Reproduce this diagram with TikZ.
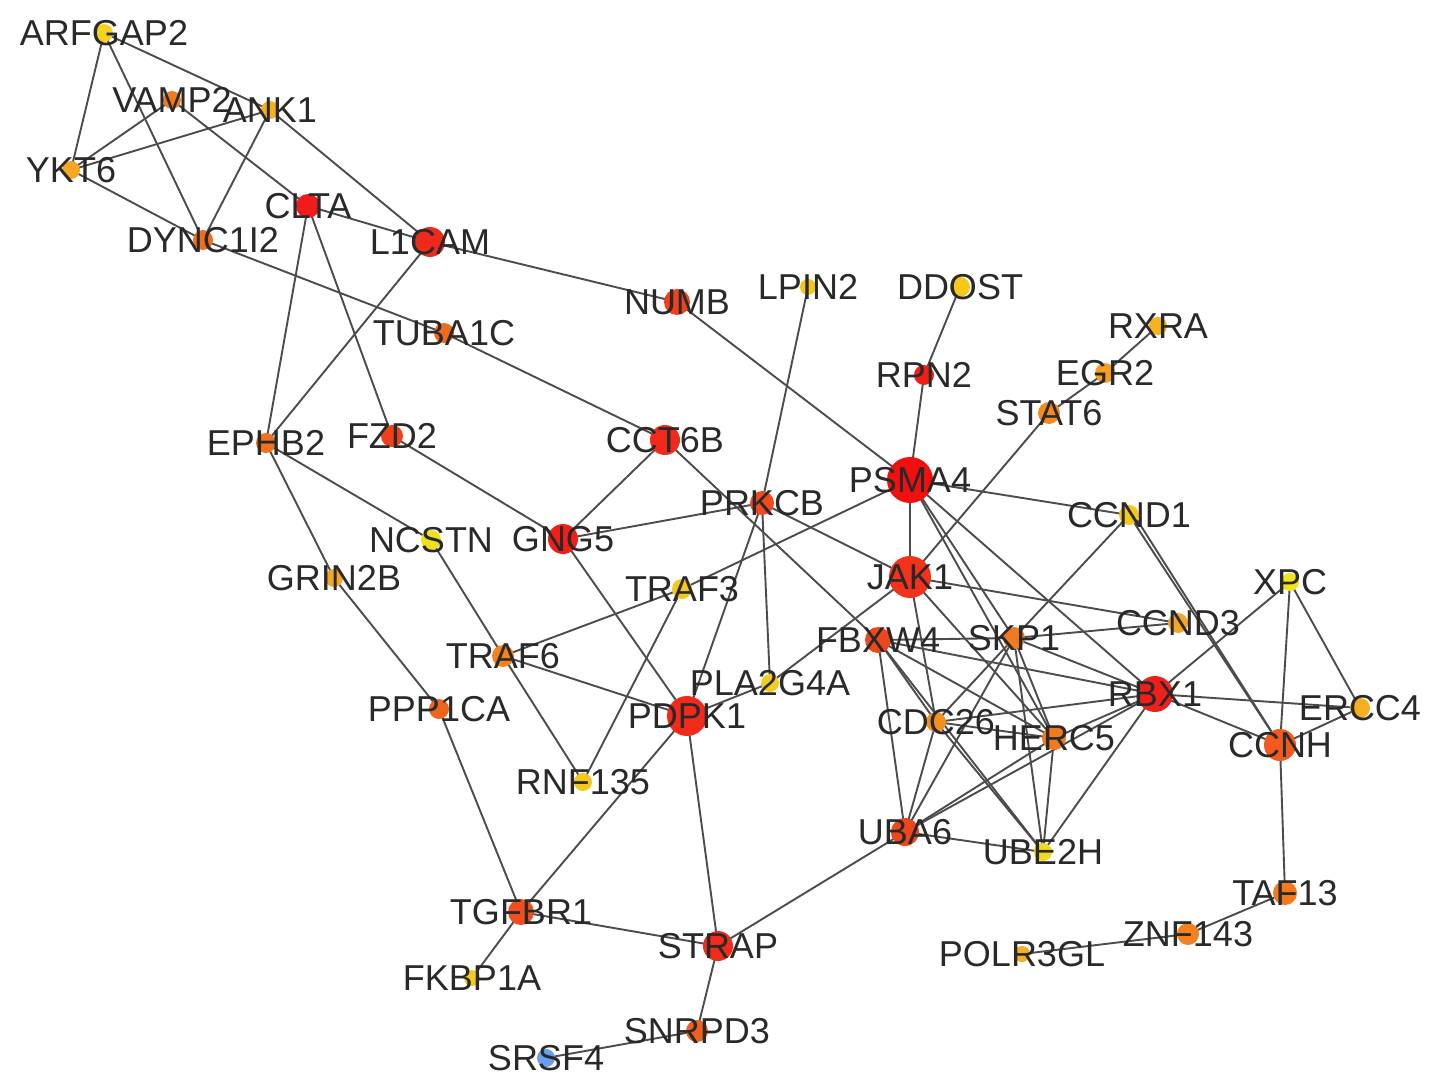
\documentclass[tikz,border=0pt]{standalone}
\usepackage{fontspec}
\setmainfont{Liberation Sans}
\usetikzlibrary{backgrounds}
\begin{document}
\begin{tikzpicture}[x=1pt,y=-1pt,
  gn/.style={circle,draw=none,inner sep=0pt},
  lbl/.style={inner sep=0pt,text=black!84,font=\fontsize{36}{40}\selectfont},
  edge/.style={draw=black!70,line width=1.9pt}]
\useasboundingbox (0,0) rectangle (1441,1089);
% nodes: name, x, y, radius, colour
\foreach \n/\x/\y/\r/\c in {
 ARFGAP2/104/33/8/{245,210,30},
 VAMP2/172/100/8/{242,122,26},
 ANK1/270/110/8/{245,176,32},
 YKT6/71/170/8/{245,166,35},
 CLTA/308/206/11/{242,26,26},
 DYNC1I2/203/240/9/{242,110,30},
 L1CAM/430/242/14/{240,42,26},
 NUMB/677/302/12/{240,64,30},
 LPIN2/808/287/7/{242,200,28},
 DDOST/960/287/9/{245,200,26},
 TUBA1C/444/333/9/{240,106,30},
 RXRA/1158/326/8/{245,180,30},
 RPN2/924/375/9/{240,30,20},
 EGR2/1105/373/9/{245,160,32},
 STAT6/1049/413/10/{245,138,30},
 EPHB2/266/443/9/{242,112,30},
 FZD2/392/436/10/{240,64,26},
 CCT6B/665/440/14/{242,42,26},
 PSMA4/910/480/22/{242,15,15},
 PRKCB/762/503/11/{240,74,30},
 CCND1/1129/515/9/{245,200,30},
 NCSTN/431/540/9/{240,224,30},
 GNG5/563/539/14/{242,30,26},
 GRIN2B/334/578/8/{245,166,35},
 XPC/1290/582/8/{242,228,26},
 JAK1/910/577/20/{242,50,26},
 TRAF3/682/589/9/{245,200,30},
 FBXW4/878/640/12/{240,70,30},
 SKP1/1014/638/10/{242,122,30},
 CCND3/1178/623/9/{245,166,35},
 TRAF6/503/656/10/{245,130,30},
 PLA2G4A/770/683/8/{242,204,30},
 RBX1/1155/694/17/{242,30,26},
 PPP1CA/439/709/9/{240,100,30},
 PDPK1/687/716/19/{242,42,26},
 CDC26/936/722/9/{245,144,30},
 ERCC4/1360/708/9/{245,176,32},
 HERC5/1054/738/11/{242,122,30},
 CCNH/1280/745/15/{242,90,30},
 RNF135/583/782/8/{242,200,30},
 UBA6/905/832/13/{240,70,30},
 UBE2H/1043/852/8/{242,216,30},
 TAF13/1285/893/11/{245,122,30},
 TGFBR1/521/912/12/{240,78,30},
 ZNF143/1188/934/10/{245,128,30},
 STRAP/718/946/14/{242,42,26},
 POLR3GL/1022/954/7/{245,176,32},
 FKBP1A/472/978/7/{242,204,30},
 SNRPD3/697/1031/10/{240,96,30},
 SRSF4/546/1058/8/{106,158,242}}
{
  \definecolor{nc}{RGB}{\c}
  \node[gn,fill=nc,minimum size=2*\r pt+2pt] (\n) at (\x,\y) {};
}
\begin{pgfonlayer}{background}
\fill[white] (0,0) rectangle (1441,1089);
\foreach \a/\b in {
 ARFGAP2/YKT6, ARFGAP2/DYNC1I2, ARFGAP2/ANK1, VAMP2/YKT6, VAMP2/CLTA,
 ANK1/YKT6, ANK1/DYNC1I2, ANK1/L1CAM, YKT6/DYNC1I2, CLTA/L1CAM,
 CLTA/EPHB2, CLTA/FZD2, DYNC1I2/TUBA1C, TUBA1C/CCT6B, L1CAM/EPHB2,
 L1CAM/NUMB, NUMB/PSMA4, LPIN2/PRKCB, PRKCB/PLA2G4A, DDOST/RPN2,
 RPN2/PSMA4, RXRA/EGR2, EGR2/STAT6, STAT6/JAK1, EPHB2/NCSTN,
 EPHB2/GRIN2B, NCSTN/TRAF6, FZD2/GNG5, CCT6B/GNG5, CCT6B/FBXW4,
 GNG5/PRKCB, GNG5/PDPK1, PRKCB/JAK1, PRKCB/PDPK1, PSMA4/TRAF3,
 PSMA4/CCND1, PSMA4/JAK1, PSMA4/SKP1, PSMA4/RBX1, PSMA4/HERC5,
 GRIN2B/PPP1CA, PPP1CA/TGFBR1, TRAF3/TRAF6, TRAF3/RNF135, TRAF6/PDPK1,
 TRAF6/RNF135, PDPK1/PLA2G4A, PLA2G4A/JAK1, JAK1/CCND3, JAK1/CDC26,
 JAK1/HERC5, CCND1/SKP1, CCND1/CCNH, XPC/RBX1, XPC/CCNH, XPC/ERCC4,
 FBXW4/SKP1, FBXW4/RBX1, FBXW4/HERC5, FBXW4/UBE2H, FBXW4/CDC26,
 FBXW4/UBA6, SKP1/CCND3, SKP1/RBX1, SKP1/CDC26, SKP1/HERC5, SKP1/UBA6,
 SKP1/UBE2H, CDC26/RBX1, CDC26/HERC5, CDC26/UBA6, CDC26/UBE2H,
 HERC5/RBX1, HERC5/UBA6, HERC5/UBE2H, RBX1/ERCC4, RBX1/CCNH, RBX1/UBA6,
 RBX1/UBE2H, ERCC4/CCNH, CCNH/TAF13, TAF13/ZNF143, ZNF143/POLR3GL,
 UBA6/UBE2H, UBA6/STRAP, PDPK1/TGFBR1, PDPK1/STRAP, TGFBR1/STRAP,
 TGFBR1/FKBP1A, STRAP/SNRPD3, SNRPD3/SRSF4}
{ \draw[edge] (\a.center) -- (\b.center); }
\draw[edge] ([xshift=5pt]CCND1.center) -- (CCNH.center);
\end{pgfonlayer}
% labels
\foreach \n in {ARFGAP2,VAMP2,ANK1,YKT6,CLTA,DYNC1I2,L1CAM,NUMB,LPIN2,DDOST,
 TUBA1C,RXRA,RPN2,EGR2,STAT6,EPHB2,FZD2,CCT6B,PSMA4,PRKCB,CCND1,NCSTN,GNG5,
 GRIN2B,XPC,JAK1,TRAF3,FBXW4,SKP1,CCND3,TRAF6,PLA2G4A,RBX1,PPP1CA,PDPK1,
 CDC26,ERCC4,HERC5,CCNH,RNF135,UBA6,UBE2H,TAF13,TGFBR1,ZNF143,STRAP,
 POLR3GL,FKBP1A,SNRPD3,SRSF4}
{ \node[lbl] (\n-l) at (\n.center) {\n}; }
\end{tikzpicture}
\end{document}
